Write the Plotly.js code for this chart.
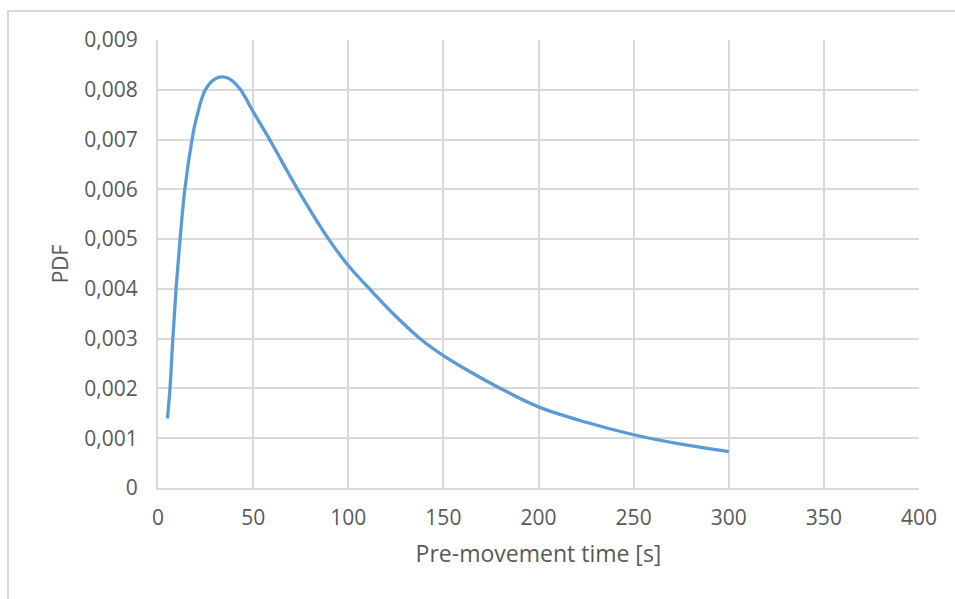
<!DOCTYPE html>
<html>
<head>
<meta charset="utf-8">
<script src="https://cdn.plot.ly/plotly-3.0.1.min.js"></script>
<style>
  html, body { margin: 0; padding: 0; background: #ffffff; overflow: hidden; }
  #frame { position: absolute; left: 7px; top: 10px; width: 970px; height: 620px;
           border: 2px solid #d9d9d9; box-sizing: border-box; pointer-events: none; z-index: 2; }
  #chart { position: absolute; left: 0; top: 0; width: 955px; height: 599px; }
</style>
</head>
<body>
<div id="chart"></div>
<div id="frame"></div>
<script>
// Pre-movement time [s] and probability density
const timeS = [5, 6.3, 7.8, 9.5, 11.6, 14.1, 17.9, 20, 24.9, 30, 34, 38, 43.4, 50, 58.7, 73.4, 89.7, 100, 111.2, 125, 137.8, 150, 162, 180, 200, 225, 250, 275, 300];
const pdf = [0.0014, 0.002, 0.003, 0.004, 0.005, 0.006, 0.007, 0.0074, 0.008, 0.00822, 0.00826, 0.00821, 0.008, 0.00756, 0.007, 0.006, 0.005, 0.00447, 0.004, 0.00345, 0.003, 0.00266, 0.00238, 0.002, 0.00163, 0.00132, 0.00107, 0.00088, 0.00073];

// Axis ticks
const xTickVals = [0, 50, 100, 150, 200, 250, 300, 350, 400];
const yTickVals = [0, 0.001, 0.002, 0.003, 0.004, 0.005, 0.006, 0.007, 0.008, 0.009];
const yTickText = ['0', '0,001', '0,002', '0,003', '0,004', '0,005', '0,006', '0,007', '0,008', '0,009'];

const textColor = '#595959';
const gridColor = '#d9d9d9';
const fontFamily = '"Open Sans", "Noto Sans", sans-serif';

const trace = {
  x: timeS,
  y: pdf,
  type: 'scatter',
  mode: 'lines',
  line: { color: '#5b9bd5', width: 3.3, shape: 'spline', smoothing: 1 },
  hoverinfo: 'x+y'
};

const layout = {
  width: 955,
  height: 599,
  margin: { l: 157.5, r: 35.5, t: 39.5, b: 111, pad: 0 },
  paper_bgcolor: '#ffffff',
  plot_bgcolor: '#ffffff',
  showlegend: false,
  font: { family: fontFamily, size: 21, color: textColor },
  xaxis: {
    range: [0, 400],
    tickvals: xTickVals,
    ticktext: xTickVals.map(String),
    showgrid: true,
    gridcolor: gridColor,
    gridwidth: 2,
    zeroline: false,
    showline: true,
    linecolor: gridColor,
    linewidth: 2,
    ticks: '',
    ticklabelstandoff: 10,
    tickfont: { family: fontFamily, size: 21, color: textColor },
    title: { text: 'Pre-movement time [s]', font: { family: fontFamily, size: 23, color: textColor }, standoff: 16 },
    fixedrange: true
  },
  yaxis: {
    range: [0, 0.009],
    tickvals: yTickVals,
    ticktext: yTickText,
    showgrid: true,
    gridcolor: gridColor,
    gridwidth: 2,
    zeroline: false,
    showline: true,
    linecolor: gridColor,
    linewidth: 2,
    ticks: '',
    ticklabelstandoff: 14,
    tickfont: { family: fontFamily, size: 21, color: textColor },
    title: { text: 'PDF', font: { family: fontFamily, size: 21, color: textColor }, standoff: 10 },
    fixedrange: true
  }
};

Plotly.newPlot('chart', [trace], layout, { displayModeBar: false, staticPlot: true });
</script>
</body>
</html>
